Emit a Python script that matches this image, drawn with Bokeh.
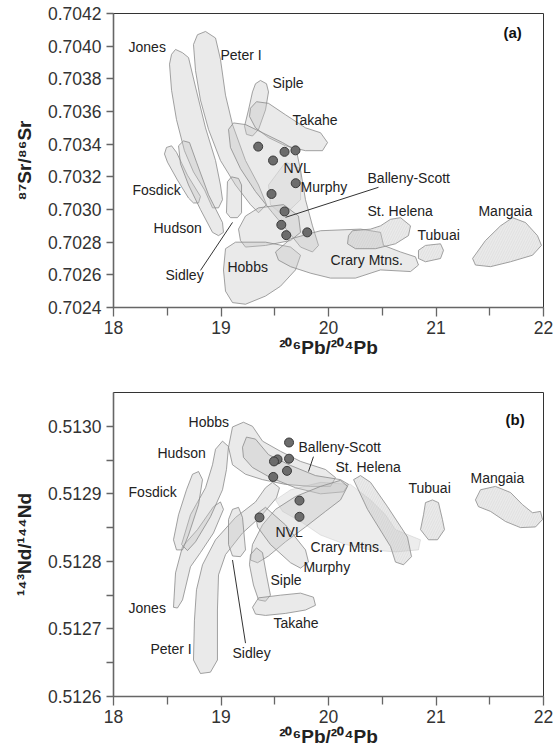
from bokeh.plotting import figure
from bokeh.layouts import column
from bokeh.models import FixedTicker, NumeralTickFormatter, Range1d
from bokeh.embed import file_html
from bokeh.resources import INLINE
from bokeh.core.properties import value

# ---------------- panel (a) : 87Sr/86Sr vs 206Pb/204Pb ----------------
A_JONES = [(18.577, 0.70398), (18.642, 0.70396), (18.698, 0.70393), (18.763, 0.70375), (18.856, 0.70350),
           (18.949, 0.70330), (18.995, 0.70315), (19.014, 0.70306), (18.977, 0.70301), (18.921, 0.70301),
           (18.847, 0.70312), (18.744, 0.70323), (18.660, 0.70336), (18.586, 0.70355), (18.540, 0.70373),
           (18.521, 0.70389), (18.540, 0.70395)]
A_PETER = [(18.781, 0.70407), (18.856, 0.70409), (18.949, 0.70405), (18.995, 0.70392), (19.042, 0.70370),
           (19.107, 0.70352), (19.228, 0.70330), (19.349, 0.70315), (19.423, 0.70303), (19.349, 0.70298),
           (19.274, 0.70303), (19.135, 0.70315), (18.995, 0.70330), (18.884, 0.70349), (18.809, 0.70367),
           (18.763, 0.70385), (18.744, 0.70401)]
A_FOSDICK = [(18.474, 0.70334), (18.493, 0.70338), (18.540, 0.70339), (18.586, 0.70335), (18.688, 0.70321),
             (18.809, 0.70308), (18.791, 0.70304), (18.744, 0.70304), (18.698, 0.70307), (18.595, 0.70318),
             (18.502, 0.70329)]
A_HUDSON = [(18.605, 0.70339), (18.651, 0.70342), (18.707, 0.70341), (18.772, 0.70329), (18.884, 0.70309),
            (19.014, 0.70292), (19.023, 0.70286), (18.977, 0.70284), (18.921, 0.70286), (18.809, 0.70300),
            (18.698, 0.70315), (18.623, 0.70328)]
A_SIDLEY = [(19.060, 0.70317), (19.098, 0.70320), (19.163, 0.70319), (19.191, 0.70315), (19.191, 0.70298),
            (19.153, 0.70295), (19.088, 0.70295), (19.051, 0.70298)]
A_SIPLE = [(19.367, 0.70379), (19.423, 0.70377), (19.442, 0.70372), (19.414, 0.70361), (19.349, 0.70349),
           (19.293, 0.70345), (19.237, 0.70346), (19.219, 0.70351), (19.256, 0.70361), (19.293, 0.70372),
           (19.321, 0.70377)]
A_TAKAHE = [(19.274, 0.70362), (19.330, 0.70366), (19.442, 0.70365), (19.600, 0.70358), (19.786, 0.70350),
            (19.926, 0.70347), (19.991, 0.70341), (19.944, 0.70336), (19.786, 0.70336), (19.600, 0.70339),
            (19.442, 0.70344), (19.321, 0.70350), (19.265, 0.70357)]
A_NVL = [(19.070, 0.70349), (19.116, 0.70353), (19.228, 0.70352), (19.386, 0.70347), (19.572, 0.70341),
         (19.702, 0.70336), (19.740, 0.70324), (19.786, 0.70306), (19.851, 0.70290), (19.907, 0.70278),
         (19.851, 0.70274), (19.740, 0.70277), (19.619, 0.70287), (19.479, 0.70298), (19.321, 0.70311),
         (19.181, 0.70325), (19.088, 0.70338)]
A_MURPHY = [(19.442, 0.70315), (19.600, 0.70329), (19.740, 0.70325), (19.740, 0.70306), (19.581, 0.70296),
            (19.460, 0.70303)]
A_BALLENY = [(19.181, 0.70281), (19.163, 0.70288), (19.228, 0.70296), (19.349, 0.70301), (19.581, 0.70303),
             (19.721, 0.70296), (19.740, 0.70286), (19.647, 0.70281), (19.414, 0.70278), (19.228, 0.70277)]
A_HOBBS = [(19.042, 0.70276), (19.135, 0.70280), (19.414, 0.70280), (19.647, 0.70277), (19.740, 0.70272),
           (19.693, 0.70263), (19.553, 0.70253), (19.414, 0.70247), (19.228, 0.70242), (19.107, 0.70243),
           (19.042, 0.70250), (19.023, 0.70263)]
A_CRARY = [(19.507, 0.70274), (19.647, 0.70282), (19.926, 0.70287), (20.298, 0.70288), (20.484, 0.70286),
           (20.512, 0.70278), (20.670, 0.70274), (20.809, 0.70271), (20.837, 0.70266), (20.763, 0.70262),
           (20.484, 0.70263), (20.251, 0.70258), (20.019, 0.70258), (19.833, 0.70261), (19.647, 0.70265),
           (19.535, 0.70269)]
A_STHELENA = [(20.186, 0.70284), (20.223, 0.70287), (20.391, 0.70288), (20.484, 0.70290), (20.577, 0.70294),
              (20.670, 0.70295), (20.763, 0.70290), (20.744, 0.70284), (20.623, 0.70279), (20.437, 0.70276),
              (20.251, 0.70276), (20.177, 0.70279)]
A_TUBUAI = [(20.837, 0.70275), (20.902, 0.70278), (21.042, 0.70279), (21.070, 0.70275), (21.042, 0.70270),
            (20.902, 0.70268), (20.837, 0.70270)]
A_MANGAIA = [(21.340, 0.70270), (21.460, 0.70281), (21.600, 0.70290), (21.712, 0.70295), (21.833, 0.70292),
             (21.944, 0.70284), (21.981, 0.70278), (21.898, 0.70272), (21.693, 0.70268), (21.507, 0.70265),
             (21.367, 0.70266)]

A_PB = [19.346, 19.591, 19.693, 19.484, 19.695, 19.470, 19.591, 19.561, 19.607, 19.802]
A_SR = [0.703385, 0.703353, 0.703362, 0.703300, 0.703161, 0.703095, 0.702988, 0.702906, 0.702843, 0.702860]

A_LABELS = ["Jones", "Peter I", "Siple", "Takahe", "NVL", "Murphy", "Balleny-Scott", "St. Helena",
            "Tubuai", "Mangaia", "Crary Mtns.", "Fosdick", "Hudson", "Sidley", "Hobbs"]
A_LABEL_X = [18.140, 18.995, 19.479, 19.665, 19.581, 19.740, 20.363, 20.363, 20.828, 21.395, 20.019,
             18.177, 18.372, 18.484, 19.060]
A_LABEL_Y = [0.703995, 0.703946, 0.703774, 0.703547, 0.703253, 0.703136, 0.703191, 0.702989, 0.702842,
             0.702989, 0.702688, 0.703118, 0.702885, 0.702596, 0.702645]
A_LEADERS = [((20.465, 0.703136), (19.600, 0.702952)), ((18.809, 0.702627), (19.107, 0.702921))]
A_Y_TICKS = [0.7024, 0.7026, 0.7028, 0.7030, 0.7032, 0.7034, 0.7036, 0.7038, 0.7040, 0.7042]

# ---------------- panel (b) : 143Nd/144Nd vs 206Pb/204Pb ----------------
B_JONES = [(18.558, 0.512732), (18.577, 0.512783), (18.642, 0.512822), (18.781, 0.512847), (18.930, 0.512881),
           (18.995, 0.512888), (19.023, 0.512877), (18.930, 0.512842), (18.809, 0.512813), (18.716, 0.512792),
           (18.642, 0.512743), (18.595, 0.512731)]
B_HUDSON = [(18.949, 0.512966), (19.014, 0.512978), (19.070, 0.512970), (19.051, 0.512936), (19.014, 0.512906),
            (18.902, 0.512866), (18.763, 0.512829), (18.688, 0.512816), (18.633, 0.512825), (18.716, 0.512869),
            (18.856, 0.512909), (18.921, 0.512943)]
B_FOSDICK = [(18.735, 0.512929), (18.791, 0.512933), (18.828, 0.512921), (18.791, 0.512884), (18.698, 0.512839),
             (18.642, 0.512817), (18.586, 0.512817), (18.558, 0.512832), (18.605, 0.512869), (18.679, 0.512906)]
B_PETER = [(18.744, 0.512654), (18.753, 0.512713), (18.772, 0.512758), (18.828, 0.512795), (18.949, 0.512832),
           (19.135, 0.512865), (19.321, 0.512888), (19.414, 0.512909), (19.479, 0.512917), (19.544, 0.512909),
           (19.516, 0.512894), (19.367, 0.512866), (19.200, 0.512842), (19.042, 0.512810), (18.977, 0.512780),
           (18.967, 0.512728), (18.967, 0.512654), (18.902, 0.512636), (18.809, 0.512634)]
B_SIDLEY = [(19.070, 0.512862), (19.107, 0.512877), (19.163, 0.512880), (19.200, 0.512865), (19.228, 0.512817),
            (19.181, 0.512807), (19.107, 0.512808), (19.070, 0.512825)]
B_HOBBS = [(19.070, 0.512969), (19.107, 0.512999), (19.209, 0.513006), (19.293, 0.513000), (19.386, 0.512978),
           (19.553, 0.512963), (19.740, 0.512948), (19.972, 0.512936), (20.065, 0.512924), (20.019, 0.512911),
           (19.833, 0.512911), (19.600, 0.512914), (19.386, 0.512921), (19.228, 0.512929), (19.107, 0.512943)]
B_BALLENY = [(19.200, 0.512969), (19.237, 0.512984), (19.321, 0.512981), (19.442, 0.512958), (19.647, 0.512942),
             (19.879, 0.512927), (20.112, 0.512921), (20.186, 0.512914), (20.140, 0.512903), (19.926, 0.512900),
             (19.693, 0.512909), (19.460, 0.512924), (19.293, 0.512939), (19.209, 0.512954)]
B_CRARY = [(19.507, 0.512891), (19.647, 0.512906), (19.926, 0.512917), (20.205, 0.512914), (20.391, 0.512891),
           (20.530, 0.512869), (20.623, 0.512847), (20.856, 0.512832), (20.837, 0.512817), (20.623, 0.512814),
           (20.391, 0.512817), (20.158, 0.512825), (19.926, 0.512839), (19.740, 0.512859), (19.572, 0.512874)]
B_STHELENA = [(20.233, 0.512921), (20.298, 0.512927), (20.391, 0.512917), (20.549, 0.512881), (20.735, 0.512836),
              (20.772, 0.512807), (20.698, 0.512795), (20.623, 0.512799), (20.577, 0.512822), (20.363, 0.512877)]
B_NVL = [(19.274, 0.512802), (19.293, 0.512825), (19.386, 0.512854), (19.507, 0.512877), (19.693, 0.512896),
         (19.926, 0.512911), (20.112, 0.512920), (20.177, 0.512911), (20.112, 0.512891), (19.972, 0.512874),
         (19.786, 0.512851), (19.600, 0.512829), (19.442, 0.512808), (19.340, 0.512798)]
B_MURPHY = [(19.321, 0.512869), (19.414, 0.512880), (19.600, 0.512854), (19.786, 0.512817), (19.814, 0.512799),
            (19.740, 0.512790), (19.647, 0.512798), (19.460, 0.512825), (19.340, 0.512851)]
B_SIPLE = [(19.274, 0.512810), (19.330, 0.512820), (19.386, 0.512813), (19.423, 0.512780), (19.460, 0.512750),
           (19.414, 0.512741), (19.349, 0.512743), (19.302, 0.512765), (19.265, 0.512795)]
B_TAKAHE = [(19.293, 0.512732), (19.349, 0.512746), (19.553, 0.512750), (19.740, 0.512753), (19.860, 0.512747),
            (19.879, 0.512735), (19.786, 0.512728), (19.600, 0.512723), (19.414, 0.512720), (19.321, 0.512722)]
B_TUBUAI = [(20.902, 0.512887), (20.967, 0.512891), (21.023, 0.512887), (21.060, 0.512862), (21.079, 0.512847),
            (21.014, 0.512832), (20.930, 0.512832), (20.856, 0.512847), (20.884, 0.512869)]
B_MANGAIA = [(21.367, 0.512891), (21.414, 0.512906), (21.553, 0.512911), (21.693, 0.512902), (21.805, 0.512884),
             (21.898, 0.512872), (21.972, 0.512874), (21.991, 0.512862), (21.926, 0.512851), (21.786, 0.512850),
             (21.647, 0.512859), (21.507, 0.512874), (21.395, 0.512881)]

B_PB = [19.633, 19.526, 19.493, 19.633, 19.614, 19.486, 19.730, 19.730, 19.358]
B_ND = [0.512976, 0.512951, 0.512948, 0.512952, 0.512934, 0.512925, 0.512890, 0.512866, 0.512865]

B_LABELS = ["Hobbs", "Hudson", "Fosdick", "Jones", "Peter I", "Sidley", "Takahe", "Siple", "Murphy", "NVL",
            "Crary Mtns.", "St. Helena", "Tubuai", "Mangaia", "Balleny-Scott"]
B_LABEL_X = [18.698, 18.409, 18.140, 18.140, 18.344, 19.107, 19.488, 19.460, 19.767, 19.507, 19.833, 20.065,
             20.744, 21.321, 19.721]
B_LABEL_Y = [0.513006, 0.512961, 0.512902, 0.512731, 0.512671, 0.512664, 0.512709, 0.512772, 0.512792,
             0.512844, 0.512822, 0.512939, 0.512909, 0.512924, 0.512969]
B_LEADERS = [((19.107, 0.512802), (19.228, 0.512679)), ((19.860, 0.512955), (19.814, 0.512933))]
B_Y_TICKS = [0.5126, 0.5127, 0.5128, 0.5129, 0.5130]
B_Y_MINOR = [0.51265, 0.51275, 0.51285, 0.51295]

X_TICKS = [18, 19, 20, 21, 22]
X_MINOR = [18.5, 19.5, 20.5, 21.5]

FONT = "Liberation Sans"
FILL = "#c4c4c4"
EDGE = "#8a8a8a"


def make_fig(yr, yticks, yminor, ylabel, fh, top, bottom):
    p = figure(frame_width=430, frame_height=fh, x_range=Range1d(18, 22), y_range=Range1d(*yr),
               output_backend="svg", toolbar_location=None,
               min_border_left=113, min_border_right=13, min_border_top=top, min_border_bottom=bottom)
    p.grid.visible = False
    p.outline_line_color = "#333333"
    p.outline_line_width = 1
    p.background_fill_color = "white"
    p.border_fill_color = "white"
    p.xaxis.ticker = FixedTicker(ticks=X_TICKS, minor_ticks=X_MINOR)
    p.yaxis.ticker = FixedTicker(ticks=yticks, minor_ticks=yminor)
    p.yaxis.formatter = NumeralTickFormatter(format="0.0000")
    for ax in (p.xaxis[0], p.yaxis[0]):
        ax.axis_line_color = "#666666"
        ax.axis_line_width = 1.6
        ax.major_tick_line_color = "#666666"
        ax.minor_tick_line_color = "#666666"
        ax.major_tick_line_width = 1.3
        ax.minor_tick_line_width = 1.3
        ax.major_tick_in = 0
        ax.minor_tick_in = 0
        ax.major_label_text_font = FONT
        ax.major_label_text_font_size = "17.5px"
        ax.major_label_text_color = "#333333"
        ax.axis_label_text_font = FONT
        ax.axis_label_text_font_style = "bold"
        ax.axis_label_text_font_size = "19px"
        ax.axis_label_text_color = "#222222"
    p.xaxis.major_tick_out = 9
    p.xaxis.minor_tick_out = 8
    p.yaxis.major_tick_out = 7
    p.yaxis.minor_tick_out = 7
    p.xaxis.major_label_standoff = 4
    p.xaxis.axis_label_standoff = 0
    p.yaxis.major_label_standoff = 5
    p.yaxis.axis_label_standoff = 10
    p.xaxis.axis_label = "²⁰⁶Pb/²⁰⁴Pb"
    p.yaxis.axis_label = ylabel
    return p


def field(p, pts, alpha=0.36, line_alpha=1.0, hatch=False):
    xs = [q[0] for q in pts]
    ys = [q[1] for q in pts]
    kw = {}
    if hatch:
        kw = dict(hatch_pattern="/", hatch_color="#b0b0b0", hatch_alpha=0.35, hatch_scale=5, hatch_weight=0.5)
    p.patch(xs, ys, fill_color=FILL, fill_alpha=alpha, line_color=EDGE, line_width=0.8,
            line_alpha=line_alpha, **kw)


def labels(p, xs, ys, texts):
    p.text(x=xs, y=ys, text=texts, text_font=value(FONT), text_font_size="14px",
           text_align="left", text_baseline="middle", text_color="#222222")


def leaders(p, segs):
    p.segment(x0=[s[0][0] for s in segs], y0=[s[0][1] for s in segs],
              x1=[s[1][0] for s in segs], y1=[s[1][1] for s in segs],
              line_color="#333333", line_width=1)


# panel a
pa = make_fig((0.7024, 0.7042), A_Y_TICKS, [], "⁸⁷Sr/⁸⁶Sr", 294, 13, 58)
for f in (A_JONES, A_PETER, A_FOSDICK, A_HUDSON, A_SIDLEY, A_SIPLE, A_TAKAHE, A_NVL):
    field(pa, f)
field(pa, A_MURPHY, alpha=0.18, line_alpha=0.3)
for f in (A_BALLENY, A_HOBBS, A_CRARY):
    field(pa, f)
for f in (A_STHELENA, A_TUBUAI, A_MANGAIA):
    field(pa, f, hatch=True)
leaders(pa, A_LEADERS)
pa.scatter(A_PB, A_SR, size=9, fill_color="#6c6c6c", line_color="#3a3a3a", line_width=1)
labels(pa, A_LABEL_X, A_LABEL_Y, A_LABELS)
pa.text(x=[21.628], y=[0.704081], text=["(a)"], text_font=value(FONT), text_font_size="15px",
        text_font_style="bold", text_align="left", text_baseline="middle", text_color="#111111")

# panel b
pb = make_fig((0.5126, 0.51305), B_Y_TICKS, B_Y_MINOR, "¹⁴³Nd/¹⁴⁴Nd", 304, 27, 56)
for f in (B_JONES, B_HUDSON, B_FOSDICK, B_PETER, B_SIDLEY, B_HOBBS, B_BALLENY):
    field(pb, f)
field(pb, B_CRARY, alpha=0.3, line_alpha=0.25)
field(pb, B_STHELENA, hatch=True)
for f in (B_NVL, B_MURPHY, B_SIPLE, B_TAKAHE):
    field(pb, f)
for f in (B_TUBUAI, B_MANGAIA):
    field(pb, f, hatch=True)
leaders(pb, B_LEADERS)
pb.scatter(B_PB, B_ND, size=9, fill_color="#6c6c6c", line_color="#3a3a3a", line_width=1)
labels(pb, B_LABEL_X, B_LABEL_Y, B_LABELS)
pb.text(x=[21.647], y=[0.51301], text=["(b)"], text_font=value(FONT), text_font_size="15px",
        text_font_style="bold", text_align="left", text_baseline="middle", text_color="#111111")

layout = column(pa, pb, spacing=0)
open("out.html", "w").write(file_html(layout, INLINE))
